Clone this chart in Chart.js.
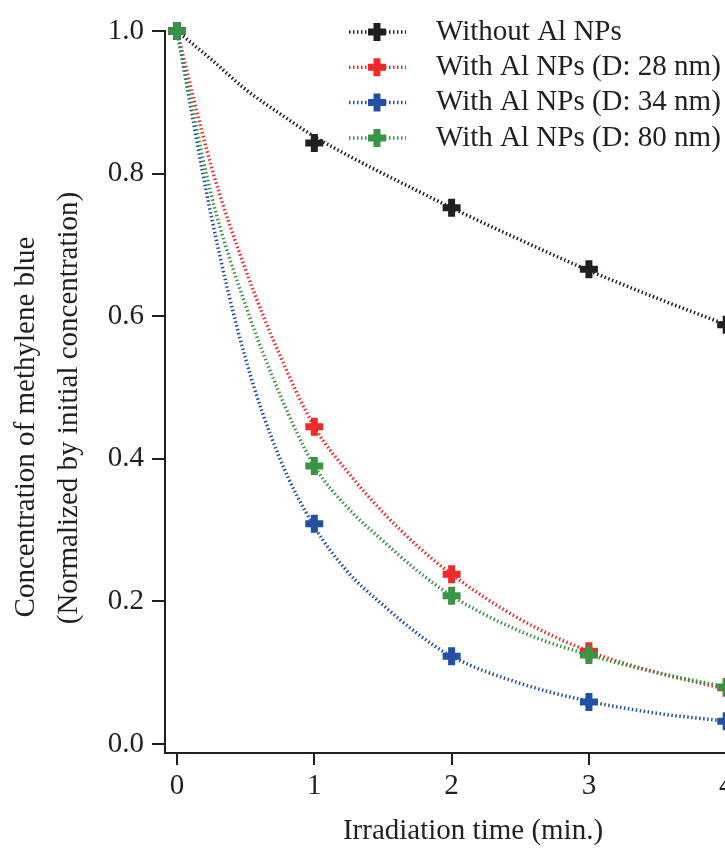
<!DOCTYPE html>
<html>
<head>
<meta charset="utf-8">
<script src="https://cdn.jsdelivr.net/npm/chart.js@4.4.1/dist/chart.umd.min.js"></script>
<style>
  html, body { margin: 0; padding: 0; background: #fff; overflow: hidden; }
  #wrap { width: 781px; height: 849px; }
</style>
</head>
<body>
<div id="wrap"><canvas id="chart" width="781" height="849"></canvas></div>
<script>
// measured points (irradiation time, min.)
const times = [0, 1, 2, 3, 4]
const withoutNPs = [1.0, 0.843, 0.752, 0.666, 0.588]
const np28 = [1.0, 0.445, 0.238, 0.130, 0.079]
const np34 = [1.0, 0.309, 0.123, 0.059, 0.032]
const np80 = [1.0, 0.390, 0.208, 0.125, 0.080]

// fitted curves
const fitTimes = [0, 0.25, 0.5, 0.75, 1, 1.25, 1.5, 1.75, 2, 2.5, 3, 3.5, 4]
const fitWithout = [1.0, 0.960, 0.918, 0.884, 0.852, 0.825, 0.800, 0.776, 0.752, 0.707, 0.664, 0.625, 0.588]
const fit28 = [1.0, 0.810, 0.665, 0.545, 0.445, 0.380, 0.325, 0.278, 0.238, 0.175, 0.130, 0.100, 0.077]
const fit34 = [1.0, 0.740, 0.540, 0.400, 0.305, 0.240, 0.195, 0.155, 0.123, 0.085, 0.060, 0.043, 0.032]
const fit80 = [1.0, 0.770, 0.615, 0.490, 0.390, 0.330, 0.285, 0.243, 0.208, 0.158, 0.125, 0.100, 0.080]

const xTicks = [0, 1, 2, 3, 4]
const yTicks = [0, 0.2, 0.4, 0.6, 0.8, 1.0]

const labels = ['Without Al NPs', 'With Al NPs (D: 28 nm)', 'With Al NPs (D: 34 nm)', 'With Al NPs (D: 80 nm)']
const colors = ['#231f20', '#ee2a2a', '#2250a4', '#3a9445']

const FONT = '"Liberation Serif", "Times New Roman", serif'
const DASH = [1.5, 2.5]

const toXY = (xs, ys) => xs.map((x, i) => ({ x: x, y: ys[i] }))

const pointSets = [withoutNPs, np28, np34, np80]
const fitSets = [fitWithout, fit28, fit34, fit80]

const datasets = []
// markers on top: green last in the figure, so lowest order
pointSets.forEach((vals, i) => {
  datasets.push({
    label: labels[i],
    data: toXY(times, vals),
    showLine: false,
    pointStyle: 'cross',
    pointRadius: 9,
    pointHoverRadius: 9,
    pointBorderWidth: 7,
    pointBorderColor: colors[i],
    pointBackgroundColor: colors[i],
    clip: false,
    order: 4 - i
  })
})
fitSets.forEach((vals, i) => {
  datasets.push({
    label: labels[i] + ' fit',
    data: toXY(fitTimes, vals),
    showLine: true,
    borderColor: colors[i],
    borderWidth: 3.5,
    borderDash: DASH,
    cubicInterpolationMode: 'monotone',
    pointRadius: 0,
    clip: false,
    order: 20 - i
  })
})

// legend drawn as in the figure: dotted line with a cross in the middle
const legendPlugin = {
  id: 'figLegend',
  afterDatasetsDraw(chart) {
    const ctx = chart.ctx
    ctx.save()
    labels.forEach((text, i) => {
      const y = 32 + i * 35.3
      ctx.strokeStyle = colors[i]
      ctx.lineWidth = 3.5
      ctx.setLineDash(DASH)
      ctx.beginPath()
      ctx.moveTo(349, y)
      ctx.lineTo(406, y)
      ctx.stroke()
      ctx.setLineDash([])
      ctx.lineWidth = 7
      ctx.beginPath()
      ctx.moveTo(368, y); ctx.lineTo(386, y)
      ctx.moveTo(377, y - 9); ctx.lineTo(377, y + 9)
      ctx.stroke()
      ctx.fillStyle = '#231f20'
      ctx.font = '29px ' + FONT
      ctx.textBaseline = 'middle'
      ctx.textAlign = 'left'
      ctx.fillText(text, 436, y)
    })
    ctx.restore()
  }
}

// two-line rotated y title
const yTitlePlugin = {
  id: 'yTitle',
  afterDraw(chart) {
    const ctx = chart.ctx
    const lines = [
      ['Concentration of methylene blue', 26, 427],
      ['(Normalized by initial concentration)', 69, 408]
    ]
    lines.forEach(([text, x, y]) => {
      ctx.save()
      ctx.fillStyle = '#231f20'
      ctx.font = '29px ' + FONT
      ctx.textAlign = 'center'
      ctx.textBaseline = 'middle'
      ctx.translate(x, y)
      ctx.rotate(-Math.PI / 2)
      ctx.fillText(text, 0, 0)
      ctx.restore()
    })
  }
}

const axisColor = '#231f20'

new Chart(document.getElementById('chart'), {
  type: 'scatter',
  data: { datasets: datasets },
  options: {
    responsive: false,
    animation: false,
    devicePixelRatio: 1,
    layout: { autoPadding: false, padding: { top: 31, right: 0, left: 0, bottom: 0 } },
    plugins: {
      legend: { display: false },
      tooltip: { enabled: false }
    },
    scales: {
      x: {
        type: 'linear',
        min: -0.0874,
        max: 4.399,
        afterBuildTicks: s => { s.ticks = xTicks.map(v => ({ value: v })) },
        afterFit: s => { s.height = 96 },
        grid: { drawOnChartArea: false, drawTicks: true, tickLength: 12, color: axisColor, lineWidth: 2 },
        border: { display: true, color: axisColor, width: 2 },
        ticks: {
          color: axisColor,
          font: { family: FONT, size: 29 },
          padding: 4,
          maxRotation: 0,
          autoSkip: false,
          callback: v => String(v)
        },
        title: {
          display: true,
          text: 'Irradiation time (min.)',
          color: axisColor,
          font: { family: FONT, size: 29 },
          padding: { top: 0, bottom: 0 }
        }
      },
      y: {
        type: 'linear',
        min: -0.0126,
        max: 1.0,
        afterBuildTicks: s => { s.ticks = yTicks.map(v => ({ value: v })) },
        afterFit: s => { s.width = 165 },
        grid: { drawOnChartArea: false, drawTicks: true, tickLength: 13, color: axisColor, lineWidth: 2 },
        border: { display: true, color: axisColor, width: 2 },
        ticks: {
          color: axisColor,
          font: { family: FONT, size: 29 },
          padding: 8,
          autoSkip: false,
          callback: v => v.toFixed(1)
        }
      }
    }
  },
  plugins: [legendPlugin, yTitlePlugin]
})
</script>
</body>
</html>
